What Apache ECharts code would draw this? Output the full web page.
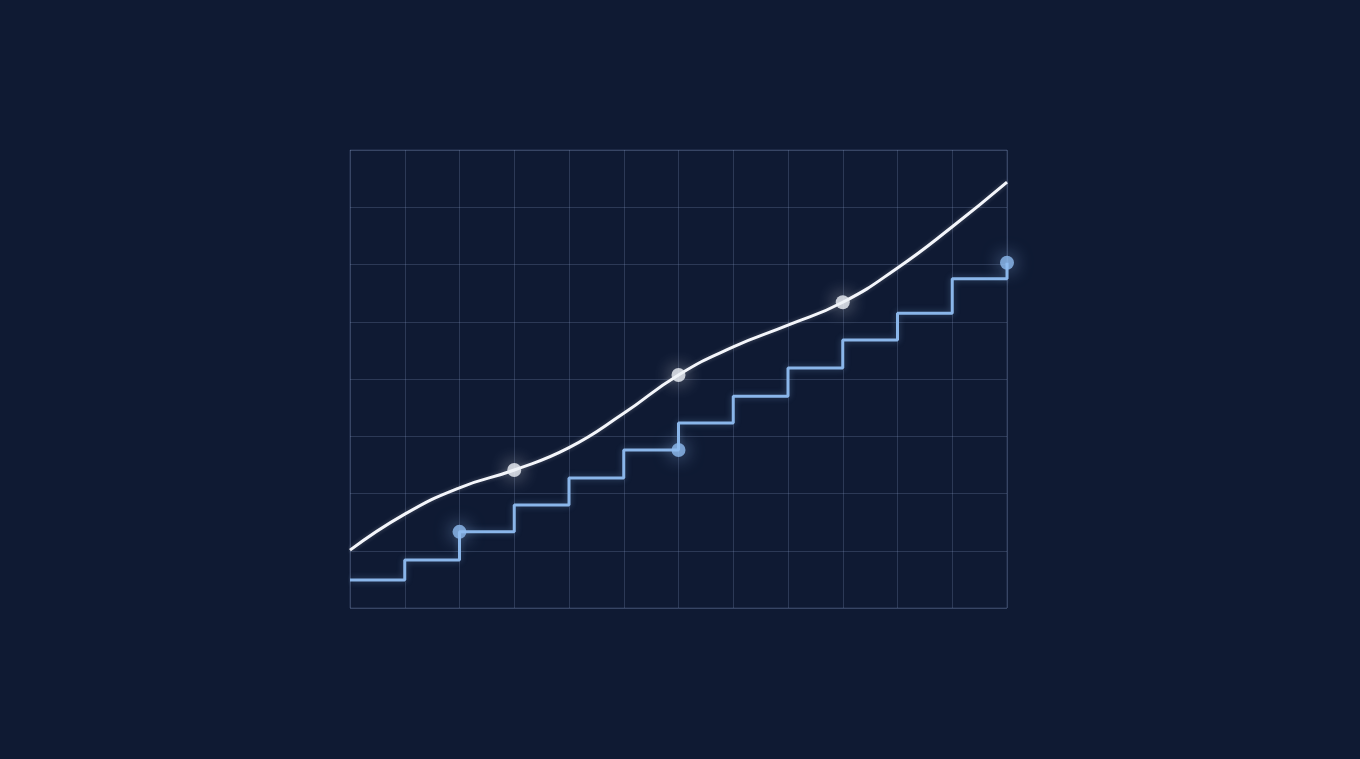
<!DOCTYPE html>
<html>
<head>
<meta charset="utf-8">
<script src="https://cdn.jsdelivr.net/npm/echarts@6/dist/echarts.min.js"></script>
<style>
    html, body { margin: 0; padding: 0; background: #0f1a33; }
    #chart { width: 1360px; height: 759px; }
</style>
</head>
<body>
<div id="chart"></div>
<script>
// Chart data
const xSteps = [0, 1, 2, 3, 4, 5, 6, 7, 8, 9, 10, 11, 12];
const curveValues = [1.01, 1.64, 2.10, 2.41, 2.80, 3.40, 4.07, 4.56, 4.94, 5.34, 5.94, 6.66, 7.44];
const stepValues = [0.49, 0.84, 1.33, 1.80, 2.27, 2.76, 3.23, 3.70, 4.19, 4.68, 5.15, 5.75, 6.03];
const curveMarkers = [[3, 2.41], [6, 4.07], [9, 5.34]];
const stepMarkers = [[2, 1.33], [6, 2.76], [12, 6.03]];

document.addEventListener('DOMContentLoaded', function() {
    const chart = echarts.init(document.getElementById('chart'));

    const gridColor = 'rgba(140, 160, 200, 0.24)';

    const option = {
        backgroundColor: '#0f1a33',
        animation: false,
        grid: {
            left: 350,
            top: 150,
            width: 657,
            height: 458,
            show: true,
            borderColor: gridColor,
            borderWidth: 1
        },
        xAxis: {
            type: 'value',
            min: 0,
            max: 12,
            interval: 1,
            axisLine: { show: false },
            axisTick: { show: false },
            axisLabel: { show: false },
            splitLine: { lineStyle: { color: gridColor, width: 1 } }
        },
        yAxis: {
            type: 'value',
            min: 0,
            max: 8,
            interval: 1,
            axisLine: { show: false },
            axisTick: { show: false },
            axisLabel: { show: false },
            splitLine: { lineStyle: { color: gridColor, width: 1 } }
        },
        series: [
            {
                type: 'line',
                step: 'end',
                data: xSteps.map((x, i) => [x, stepValues[i]]),
                showSymbol: false,
                lineStyle: {
                    color: '#8ab6ea',
                    width: 3,
                    shadowBlur: 6,
                    shadowColor: 'rgba(138, 182, 234, 0.35)'
                },
                z: 2
            },
            {
                type: 'line',
                smooth: 0.5,
                data: xSteps.map((x, i) => [x, curveValues[i]]),
                showSymbol: false,
                lineStyle: {
                    color: '#f4f6fb',
                    width: 3,
                    shadowBlur: 4,
                    shadowColor: 'rgba(255, 255, 255, 0.25)'
                },
                z: 3
            },
            {
                type: 'scatter',
                data: stepMarkers,
                symbolSize: 14,
                itemStyle: {
                    color: '#8fbcf0',
                    shadowBlur: 18,
                    shadowColor: 'rgba(150, 190, 240, 0.85)'
                },
                z: 4
            },
            {
                type: 'scatter',
                data: curveMarkers,
                symbolSize: 14,
                itemStyle: {
                    color: '#eef1f8',
                    shadowBlur: 18,
                    shadowColor: 'rgba(255, 255, 255, 0.8)'
                },
                z: 5
            }
        ]
    };

    chart.setOption(option);
});
</script>
</body>
</html>
